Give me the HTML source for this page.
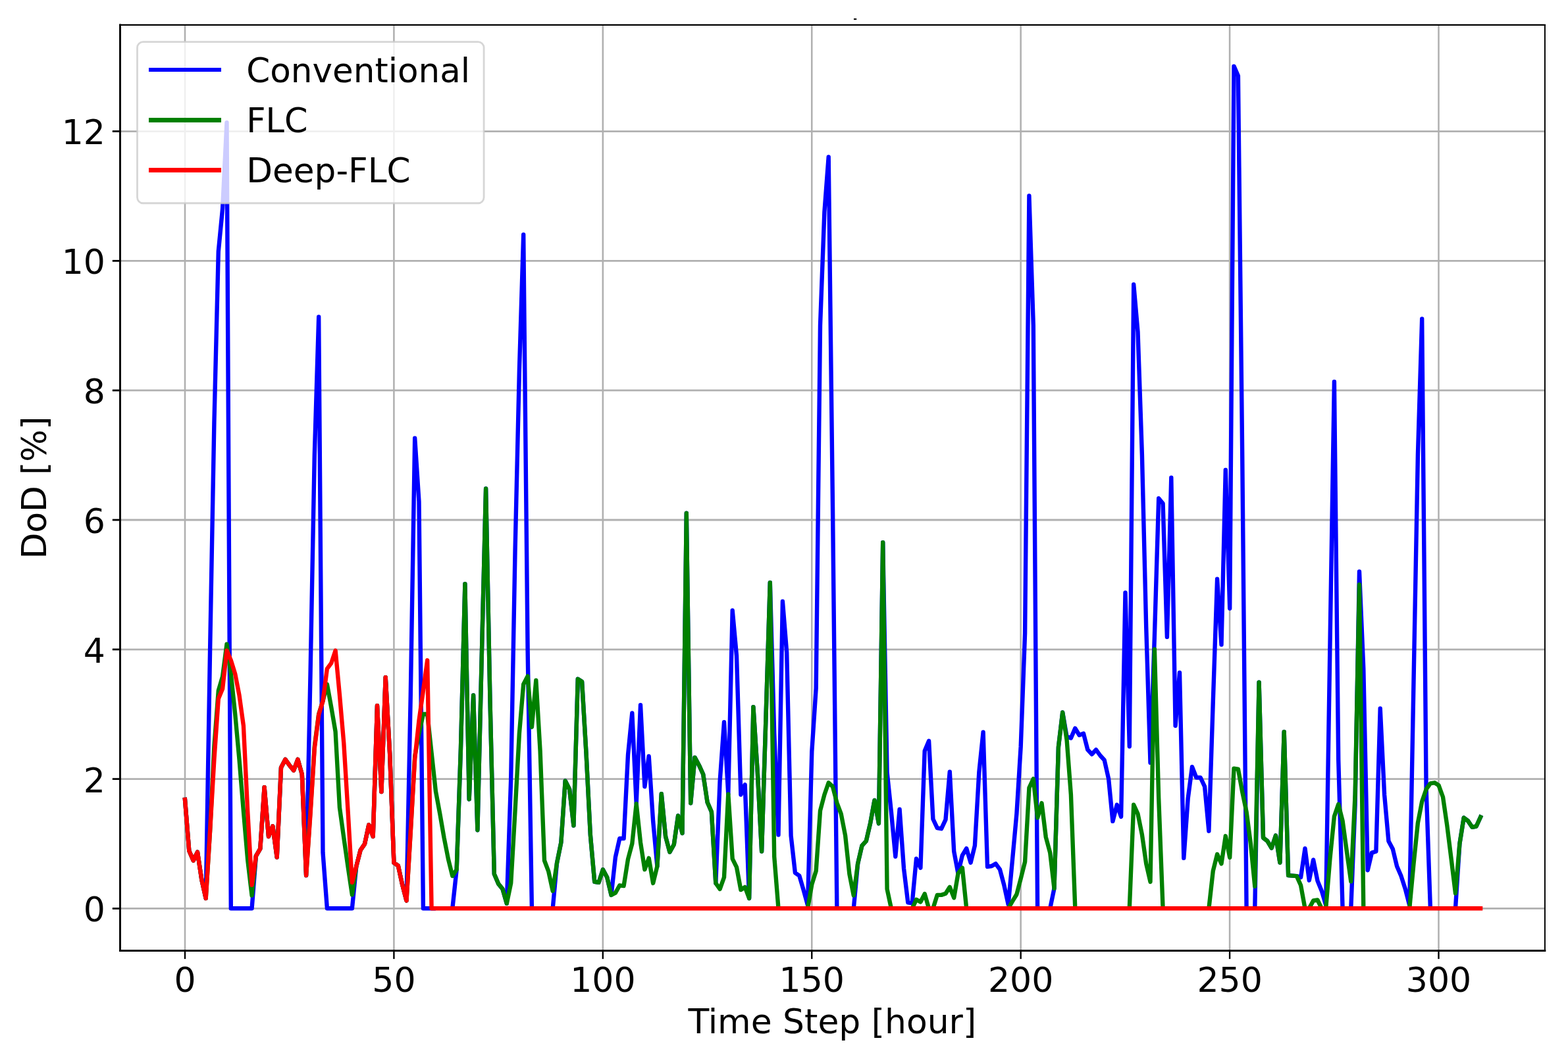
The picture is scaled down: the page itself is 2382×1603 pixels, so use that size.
<!DOCTYPE html>
<html lang="en"><head><meta charset="utf-8"><title>DoD comparison</title>
<style>html,body{margin:0;padding:0;background:#fff}svg{display:block}</style></head>
<body>
<svg xmlns="http://www.w3.org/2000/svg" width="2382" height="1603" viewBox="0 0 2382 1603" font-family="'DejaVu Sans', 'Liberation Sans', sans-serif" font-size="52.08px">
<rect width="2382" height="1603" fill="#fff"/>
<rect x="1297" y="28" width="4.2" height="2.1" fill="#000"/>
<g stroke="#b0b0b0"><line x1="281.00" y1="37.9" x2="281.00" y2="1444.5" stroke-width="2.55"/><line x1="598.41" y1="37.9" x2="598.41" y2="1444.5" stroke-width="2.55"/><line x1="915.83" y1="37.9" x2="915.83" y2="1444.5" stroke-width="2.55"/><line x1="1233.24" y1="37.9" x2="1233.24" y2="1444.5" stroke-width="2.55"/><line x1="1550.66" y1="37.9" x2="1550.66" y2="1444.5" stroke-width="2.55"/><line x1="1868.08" y1="37.9" x2="1868.08" y2="1444.5" stroke-width="2.55"/><line x1="2185.49" y1="37.9" x2="2185.49" y2="1444.5" stroke-width="2.55"/><line x1="182.5" y1="1380.45" x2="2346.9" y2="1380.45" stroke-width="2.8"/><line x1="182.5" y1="1183.63" x2="2346.9" y2="1183.63" stroke-width="2.8"/><line x1="182.5" y1="986.81" x2="2346.9" y2="986.81" stroke-width="2.8"/><line x1="182.5" y1="789.99" x2="2346.9" y2="789.99" stroke-width="2.8"/><line x1="182.5" y1="593.17" x2="2346.9" y2="593.17" stroke-width="2.8"/><line x1="182.5" y1="396.35" x2="2346.9" y2="396.35" stroke-width="2.8"/><line x1="182.5" y1="199.53" x2="2346.9" y2="199.53" stroke-width="2.8"/></g>
<clipPath id="ax"><rect x="182.5" y="37.9" width="2164.4" height="1406.6"/></clipPath>
<g clip-path="url(#ax)">
<g fill="none" stroke="#0000ff" stroke-width="6.40" stroke-linejoin="round" stroke-linecap="butt"><polyline points="280.7,1211.7 281.0,1214.9 287.3,1292.7 293.7,1307.5 300.0,1294.7 306.4,1337.0 312.7,1365.0 319.1,986.5 325.4,642.0 331.8,382.1 338.1,317.1 344.5,186.2 350.8,1380.3 357.2,1380.3 363.5,1380.3 369.9,1380.3 376.2,1380.3 382.6,1380.3 388.9,1300.6 395.3,1289.7 401.6,1196.2 408.0,1271.0 414.3,1255.3 420.7,1302.5 427.0,1166.2 433.4,1153.9 439.7,1162.7 446.1,1170.6 452.4,1153.9 458.8,1176.5 465.1,1330.1 471.5,1025.9 477.8,691.2 484.2,481.5 490.5,1295.6 496.9,1380.3 503.2,1380.3 509.6,1380.3 515.9,1380.3 522.3,1380.3 528.6,1380.3 534.9,1380.3 541.3,1316.3 547.6,1291.7 554.0,1282.4 560.3,1253.3 566.7,1271.0 573.0,1072.2 579.4,1203.1 585.7,1029.2 592.1,1144.0 598.4,1310.8 604.8,1315.3 611.1,1343.9 617.5,1368.5 623.8,1055.4 630.2,665.6 636.5,762.1 642.9,1380.3 649.2,1380.3 655.6,1380.3 661.9,1380.3"/><polyline points="687.3,1380.3 693.7,1321.2 700.0,1136.2 706.4,887.1 712.7,1214.4 719.1,1056.4 725.4,1261.2 731.8,996.4 738.1,742.4 744.5,1065.3 750.8,1328.1 757.2,1342.9 763.5,1350.8 769.8,1372.8 776.2,1183.4 782.5,838.9 788.9,563.2 795.2,356.5 801.6,986.5 807.9,1380.3"/><polyline points="839.7,1380.3 846.0,1311.4 852.4,1279.9 858.7,1186.4 865.1,1199.2 871.4,1254.3 877.8,1031.8 884.1,1035.8 890.5,1144.0 896.8,1268.1 903.2,1339.9 909.5,1340.9 915.9,1321.2 922.2,1333.0 928.6,1359.9 934.9,1302.5 941.3,1274.0 947.6,1274.0 954.0,1147.0 960.3,1083.4 966.7,1220.8 973.0,1071.2 979.4,1195.2 985.7,1149.0 992.1,1247.4 998.4,1316.3 1004.8,1206.1 1011.1,1271.0 1017.4,1294.7 1023.8,1283.2 1030.1,1239.5 1036.5,1266.1 1042.8,779.8 1049.2,1220.3 1055.5,1150.9 1061.9,1162.7 1068.2,1176.5 1074.6,1218.9 1080.9,1233.6 1087.3,1341.9 1093.6,1187.4 1100.0,1097.2 1106.3,1206.6 1112.7,927.5 1119.0,996.4 1125.4,1207.5 1131.7,1192.3 1138.1,1365.0 1144.4,1074.2 1150.8,1173.6 1157.1,1293.7 1163.5,1089.9 1169.8,885.1 1176.2,1114.5 1182.5,1268.6 1188.9,913.7 1195.2,991.5 1201.6,1270.0 1207.9,1326.2 1214.3,1330.6 1220.6,1352.1 1227.0,1375.4 1233.3,1142.1 1239.7,1045.6 1246.0,494.3 1252.4,322.1 1258.7,238.4 1265.0,770.0 1271.4,1380.3"/><polyline points="1296.8,1380.3 1303.1,1312.4 1309.5,1284.8 1315.8,1277.9 1322.2,1250.4 1328.5,1215.9 1334.9,1251.3 1341.2,824.1 1347.6,1173.6 1353.9,1233.6 1360.3,1301.5 1366.6,1229.7 1373.0,1319.3 1379.3,1371.4 1385.7,1372.4 1392.0,1304.8 1398.4,1318.6 1404.7,1141.1 1411.1,1125.8 1417.4,1244.5 1423.8,1258.2 1430.1,1259.2 1436.5,1245.4 1442.8,1172.6 1449.2,1293.7 1455.5,1327.1 1461.9,1299.6 1468.2,1289.2 1474.6,1310.8 1480.9,1284.8 1487.3,1173.6 1493.6,1112.5 1500.0,1316.8 1506.3,1316.0 1512.6,1312.4 1519.0,1321.2 1525.3,1344.9 1531.7,1374.4 1538.0,1306.5 1544.4,1236.6 1550.7,1134.2 1557.1,961.9 1563.4,297.5 1569.8,494.3 1576.1,1380.3"/><polyline points="1595.2,1380.3 1601.5,1349.8 1607.9,1135.2 1614.2,1082.5 1620.6,1119.4 1626.9,1121.4 1633.3,1106.6 1639.6,1117.0 1646.0,1114.5 1652.3,1139.1 1658.7,1146.0 1665.0,1139.1 1671.4,1148.0 1677.7,1154.9 1684.1,1183.4 1690.4,1247.9 1696.8,1222.8 1703.1,1241.0 1709.5,900.4 1715.8,1134.2 1722.2,432.3 1728.5,504.2 1734.9,691.2 1741.2,952.1 1747.5,1158.8 1753.9,966.9 1760.2,757.2 1766.6,765.0 1772.9,967.8 1779.3,725.7 1785.6,1102.7 1792.0,1022.0 1798.3,1303.9 1804.7,1213.0 1811.0,1165.2 1817.4,1181.5 1823.7,1181.5 1830.1,1195.2 1836.4,1262.7 1842.8,1065.3 1849.1,879.7 1855.5,979.6 1861.8,713.9 1868.2,924.5 1874.5,100.6 1880.9,115.3 1887.2,691.2 1893.6,1380.3"/><polyline points="1906.3,1380.3 1912.6,1036.7 1919.0,1273.0 1925.3,1277.9 1931.7,1288.5 1938.0,1269.5 1944.4,1310.8 1950.7,1111.9 1957.1,1330.1 1963.4,1330.6 1969.8,1331.1 1976.1,1333.0 1982.5,1289.2 1988.8,1337.5 1995.1,1306.5 2001.5,1338.4 2007.8,1353.7 2014.2,1375.4 2020.5,976.7 2026.9,580.0 2033.2,1153.9 2039.6,1380.3"/><polyline points="2052.3,1380.3 2058.6,1222.8 2065.0,868.4 2071.3,1016.1 2077.7,1322.2 2084.0,1295.6 2090.4,1293.7 2096.7,1076.5 2103.1,1207.5 2109.4,1277.9 2115.8,1290.1 2122.1,1316.3 2128.5,1331.1 2134.8,1350.8 2141.2,1375.4 2147.5,1035.8 2153.9,691.2 2160.2,484.5 2166.6,1198.2 2172.9,1380.3"/><polyline points="2211.0,1380.3 2217.4,1281.9 2223.7,1242.5 2230.1,1247.4 2236.4,1256.8 2242.7,1255.5 2249.1,1241.5 2250.4,1238.6"/></g>
<g fill="none" stroke="#008000" stroke-width="6.40" stroke-linejoin="round" stroke-linecap="butt"><polyline points="280.7,1211.7 281.0,1214.9 287.3,1292.7 293.7,1307.5 300.0,1294.7 306.4,1337.0 312.7,1365.0 319.1,1262.2 325.4,1134.2 331.8,1049.5 338.1,1027.9 344.5,978.7 350.8,1023.9 357.2,1085.0 363.5,1153.9 369.9,1232.6 376.2,1306.5 382.6,1360.6 388.9,1300.6 395.3,1289.7 401.6,1196.2 408.0,1271.0 414.3,1255.3 420.7,1302.5 427.0,1166.2 433.4,1153.9 439.7,1162.7 446.1,1170.6 452.4,1153.9 458.8,1176.5 465.1,1330.1 471.5,1232.6 477.8,1134.2 484.2,1085.0 490.5,1065.3 496.9,1039.7 503.2,1074.2 509.6,1111.6 515.9,1226.7 522.3,1273.0 528.6,1317.3 534.9,1359.6 541.3,1316.3 547.6,1291.7 554.0,1282.4 560.3,1253.3 566.7,1271.0 573.0,1072.2 579.4,1203.1 585.7,1029.2 592.1,1144.0 598.4,1310.8 604.8,1315.3 611.1,1343.9 617.5,1368.5 623.8,1262.2 630.2,1149.0 636.5,1114.5 642.9,1085.0 649.2,1085.0 655.6,1144.0 661.9,1202.1 668.3,1236.6 674.6,1273.0 681.0,1305.5 687.3,1331.1 693.7,1321.2 700.0,1136.2 706.4,887.1 712.7,1214.4 719.1,1056.4 725.4,1261.2 731.8,996.4 738.1,742.4 744.5,1065.3 750.8,1328.1 757.2,1342.9 763.5,1350.8 769.8,1372.8 776.2,1341.9 782.5,1232.6 788.9,1114.5 795.2,1039.7 801.6,1027.4 807.9,1104.7 814.3,1033.8 820.6,1141.1 827.0,1307.5 833.3,1324.2 839.7,1353.7 846.0,1311.4 852.4,1279.9 858.7,1186.4 865.1,1199.2 871.4,1254.3 877.8,1031.8 884.1,1035.8 890.5,1144.0 896.8,1268.1 903.2,1339.9 909.5,1340.9 915.9,1321.2 922.2,1333.0 928.6,1359.9 934.9,1356.7 941.3,1345.3 947.6,1346.1 954.0,1305.5 960.3,1281.9 966.7,1221.3 973.0,1279.9 979.4,1321.2 985.7,1303.9 992.1,1341.9 998.4,1316.3 1004.8,1206.1 1011.1,1271.0 1017.4,1294.7 1023.8,1283.2 1030.1,1239.5 1036.5,1266.1 1042.8,779.8 1049.2,1220.3 1055.5,1150.9 1061.9,1162.7 1068.2,1176.5 1074.6,1218.9 1080.9,1233.6 1087.3,1341.9 1093.6,1350.8 1100.0,1333.0 1106.3,1206.6 1112.7,1304.8 1119.0,1317.7 1125.4,1352.1 1131.7,1347.8 1138.1,1365.0 1144.4,1074.2 1150.8,1173.6 1157.1,1293.7 1163.5,1089.9 1169.8,885.1 1176.2,1301.5 1182.5,1380.3"/><polyline points="1227.0,1380.3 1233.3,1343.9 1239.7,1323.2 1246.0,1231.7 1252.4,1207.5 1258.7,1189.3 1265.0,1195.2 1271.4,1219.8 1277.7,1236.6 1284.1,1269.5 1290.4,1328.1 1296.8,1360.6 1303.1,1312.4 1309.5,1284.8 1315.8,1277.9 1322.2,1250.4 1328.5,1215.9 1334.9,1251.3 1341.2,824.1 1347.6,1350.8 1353.9,1380.3"/><polyline points="1385.7,1380.3 1392.0,1366.8 1398.4,1370.5 1404.7,1358.2 1411.1,1380.3"/><polyline points="1417.4,1380.3 1423.8,1359.9 1430.1,1359.9 1436.5,1357.7 1442.8,1347.8 1449.2,1364.2 1455.5,1327.1 1461.9,1318.6 1468.2,1380.3"/><polyline points="1531.7,1380.3 1538.0,1369.5 1544.4,1359.0 1550.7,1335.0 1557.1,1309.4 1563.4,1197.2 1569.8,1183.4 1576.1,1242.5 1582.5,1220.3 1588.8,1272.0 1595.2,1295.6 1601.5,1349.8 1607.9,1135.2 1614.2,1082.5 1620.6,1124.4 1626.9,1207.5 1633.3,1380.3"/><polyline points="1715.8,1380.3 1722.2,1222.8 1728.5,1236.6 1734.9,1268.1 1741.2,1312.4 1747.5,1339.9 1753.9,986.5 1760.2,1213.0 1766.6,1380.3"/><polyline points="1836.4,1380.3 1842.8,1323.2 1849.1,1297.9 1855.5,1312.4 1861.8,1270.3 1868.2,1303.0 1874.5,1167.7 1880.9,1168.7 1887.2,1203.1 1893.6,1233.6 1899.9,1281.9 1906.3,1346.8 1912.6,1036.7 1919.0,1273.0 1925.3,1277.9 1931.7,1288.5 1938.0,1269.5 1944.4,1310.8 1950.7,1111.9 1957.1,1330.1 1963.4,1330.6 1969.8,1331.1 1976.1,1345.3 1982.5,1380.3"/><polyline points="1988.8,1380.3 1995.1,1368.5 2001.5,1367.5 2007.8,1380.3"/><polyline points="2014.2,1380.3 2020.5,1303.9 2026.9,1240.5 2033.2,1222.1 2039.6,1247.4 2045.9,1293.7 2052.3,1339.3 2058.6,1207.5 2065.0,888.1 2071.3,1380.3"/><polyline points="2141.2,1380.3 2147.5,1312.4 2153.9,1250.4 2160.2,1217.9 2166.6,1199.2 2172.9,1190.3 2179.3,1189.3 2185.6,1193.3 2192.0,1211.0 2198.3,1254.3 2204.7,1305.5 2211.0,1357.3 2217.4,1281.9 2223.7,1242.5 2230.1,1247.4 2236.4,1256.8 2242.7,1255.5 2249.1,1241.5 2250.4,1238.6"/></g>
<g fill="none" stroke="#ff0000" stroke-width="6.40" stroke-linejoin="round" stroke-linecap="butt"><polyline points="280.7,1211.7 281.0,1214.9 287.3,1292.7 293.7,1307.5 300.0,1294.7 306.4,1337.0 312.7,1365.0 319.1,1262.2 325.4,1153.9 331.8,1061.8 338.1,1046.6 344.5,988.5 350.8,1003.3 357.2,1023.9 363.5,1056.4 369.9,1102.7 376.2,1232.6 382.6,1344.9 388.9,1300.6 395.3,1289.7 401.6,1196.2 408.0,1271.0 414.3,1255.3 420.7,1302.5 427.0,1166.2 433.4,1153.9 439.7,1162.7 446.1,1170.6 452.4,1153.9 458.8,1176.5 465.1,1330.1 471.5,1237.6 477.8,1137.2 484.2,1086.0 490.5,1065.3 496.9,1016.1 503.2,1007.7 509.6,988.5 515.9,1055.4 522.3,1129.3 528.6,1232.6 534.9,1340.9 541.3,1316.3 547.6,1291.7 554.0,1282.4 560.3,1253.3 566.7,1271.0 573.0,1072.2 579.4,1203.1 585.7,1029.2 592.1,1144.0 598.4,1310.8 604.8,1315.3 611.1,1343.9 617.5,1368.5 623.8,1264.1 630.2,1152.9 636.5,1094.8 642.9,1049.5 649.2,1003.3 655.6,1380.3 661.9,1380.3 668.3,1380.3 674.6,1380.3 681.0,1380.3 687.3,1380.3 693.7,1380.3 700.0,1380.3 706.4,1380.3 712.7,1380.3 719.1,1380.3 725.4,1380.3 731.8,1380.3 738.1,1380.3 744.5,1380.3 750.8,1380.3 757.2,1380.3 763.5,1380.3 769.8,1380.3 776.2,1380.3 782.5,1380.3 788.9,1380.3 795.2,1380.3 801.6,1380.3 807.9,1380.3 814.3,1380.3 820.6,1380.3 827.0,1380.3 833.3,1380.3 839.7,1380.3 846.0,1380.3 852.4,1380.3 858.7,1380.3 865.1,1380.3 871.4,1380.3 877.8,1380.3 884.1,1380.3 890.5,1380.3 896.8,1380.3 903.2,1380.3 909.5,1380.3 915.9,1380.3 922.2,1380.3 928.6,1380.3 934.9,1380.3 941.3,1380.3 947.6,1380.3 954.0,1380.3 960.3,1380.3 966.7,1380.3 973.0,1380.3 979.4,1380.3 985.7,1380.3 992.1,1380.3 998.4,1380.3 1004.8,1380.3 1011.1,1380.3 1017.4,1380.3 1023.8,1380.3 1030.1,1380.3 1036.5,1380.3 1042.8,1380.3 1049.2,1380.3 1055.5,1380.3 1061.9,1380.3 1068.2,1380.3 1074.6,1380.3 1080.9,1380.3 1087.3,1380.3 1093.6,1380.3 1100.0,1380.3 1106.3,1380.3 1112.7,1380.3 1119.0,1380.3 1125.4,1380.3 1131.7,1380.3 1138.1,1380.3 1144.4,1380.3 1150.8,1380.3 1157.1,1380.3 1163.5,1380.3 1169.8,1380.3 1176.2,1380.3 1182.5,1380.3 1188.9,1380.3 1195.2,1380.3 1201.6,1380.3 1207.9,1380.3 1214.3,1380.3 1220.6,1380.3 1227.0,1380.3 1233.3,1380.3 1239.7,1380.3 1246.0,1380.3 1252.4,1380.3 1258.7,1380.3 1265.0,1380.3 1271.4,1380.3 1277.7,1380.3 1284.1,1380.3 1290.4,1380.3 1296.8,1380.3 1303.1,1380.3 1309.5,1380.3 1315.8,1380.3 1322.2,1380.3 1328.5,1380.3 1334.9,1380.3 1341.2,1380.3 1347.6,1380.3 1353.9,1380.3 1360.3,1380.3 1366.6,1380.3 1373.0,1380.3 1379.3,1380.3 1385.7,1380.3 1392.0,1380.3 1398.4,1380.3 1404.7,1380.3 1411.1,1380.3 1417.4,1380.3 1423.8,1380.3 1430.1,1380.3 1436.5,1380.3 1442.8,1380.3 1449.2,1380.3 1455.5,1380.3 1461.9,1380.3 1468.2,1380.3 1474.6,1380.3 1480.9,1380.3 1487.3,1380.3 1493.6,1380.3 1500.0,1380.3 1506.3,1380.3 1512.6,1380.3 1519.0,1380.3 1525.3,1380.3 1531.7,1380.3 1538.0,1380.3 1544.4,1380.3 1550.7,1380.3 1557.1,1380.3 1563.4,1380.3 1569.8,1380.3 1576.1,1380.3 1582.5,1380.3 1588.8,1380.3 1595.2,1380.3 1601.5,1380.3 1607.9,1380.3 1614.2,1380.3 1620.6,1380.3 1626.9,1380.3 1633.3,1380.3 1639.6,1380.3 1646.0,1380.3 1652.3,1380.3 1658.7,1380.3 1665.0,1380.3 1671.4,1380.3 1677.7,1380.3 1684.1,1380.3 1690.4,1380.3 1696.8,1380.3 1703.1,1380.3 1709.5,1380.3 1715.8,1380.3 1722.2,1380.3 1728.5,1380.3 1734.9,1380.3 1741.2,1380.3 1747.5,1380.3 1753.9,1380.3 1760.2,1380.3 1766.6,1380.3 1772.9,1380.3 1779.3,1380.3 1785.6,1380.3 1792.0,1380.3 1798.3,1380.3 1804.7,1380.3 1811.0,1380.3 1817.4,1380.3 1823.7,1380.3 1830.1,1380.3 1836.4,1380.3 1842.8,1380.3 1849.1,1380.3 1855.5,1380.3 1861.8,1380.3 1868.2,1380.3 1874.5,1380.3 1880.9,1380.3 1887.2,1380.3 1893.6,1380.3 1899.9,1380.3 1906.3,1380.3 1912.6,1380.3 1919.0,1380.3 1925.3,1380.3 1931.7,1380.3 1938.0,1380.3 1944.4,1380.3 1950.7,1380.3 1957.1,1380.3 1963.4,1380.3 1969.8,1380.3 1976.1,1380.3 1982.5,1380.3 1988.8,1380.3 1995.1,1380.3 2001.5,1380.3 2007.8,1380.3 2014.2,1380.3 2020.5,1380.3 2026.9,1380.3 2033.2,1380.3 2039.6,1380.3 2045.9,1380.3 2052.3,1380.3 2058.6,1380.3 2065.0,1380.3 2071.3,1380.3 2077.7,1380.3 2084.0,1380.3 2090.4,1380.3 2096.7,1380.3 2103.1,1380.3 2109.4,1380.3 2115.8,1380.3 2122.1,1380.3 2128.5,1380.3 2134.8,1380.3 2141.2,1380.3 2147.5,1380.3 2153.9,1380.3 2160.2,1380.3 2166.6,1380.3 2172.9,1380.3 2179.3,1380.3 2185.6,1380.3 2192.0,1380.3 2198.3,1380.3 2204.7,1380.3 2211.0,1380.3 2217.4,1380.3 2223.7,1380.3 2230.1,1380.3 2236.4,1380.3 2242.7,1380.3 2249.1,1380.3 2252.3,1380.3"/></g>
</g>
<g stroke="#000"><line x1="281.00" y1="1444.5" x2="281.00" y2="1457.10" stroke-width="2.4"/><line x1="598.41" y1="1444.5" x2="598.41" y2="1457.10" stroke-width="2.4"/><line x1="915.83" y1="1444.5" x2="915.83" y2="1457.10" stroke-width="2.4"/><line x1="1233.24" y1="1444.5" x2="1233.24" y2="1457.10" stroke-width="2.4"/><line x1="1550.66" y1="1444.5" x2="1550.66" y2="1457.10" stroke-width="2.4"/><line x1="1868.08" y1="1444.5" x2="1868.08" y2="1457.10" stroke-width="2.4"/><line x1="2185.49" y1="1444.5" x2="2185.49" y2="1457.10" stroke-width="2.4"/><line x1="182.5" y1="1380.45" x2="170.80" y2="1380.45" stroke-width="2.8"/><line x1="182.5" y1="1183.63" x2="170.80" y2="1183.63" stroke-width="2.8"/><line x1="182.5" y1="986.81" x2="170.80" y2="986.81" stroke-width="2.8"/><line x1="182.5" y1="789.99" x2="170.80" y2="789.99" stroke-width="2.8"/><line x1="182.5" y1="593.17" x2="170.80" y2="593.17" stroke-width="2.8"/><line x1="182.5" y1="396.35" x2="170.80" y2="396.35" stroke-width="2.8"/><line x1="182.5" y1="199.53" x2="170.80" y2="199.53" stroke-width="2.8"/></g>
<g stroke="#000" stroke-linecap="square"><line x1="182.5" y1="37.9" x2="182.5" y2="1444.5" stroke-width="2.9"/><line x1="182.5" y1="1444.5" x2="2346.9" y2="1444.5" stroke-width="2.9"/><line x1="182.5" y1="37.9" x2="2346.9" y2="37.9" stroke-width="2.3"/><line x1="2346.9" y1="37.9" x2="2346.9" y2="1444.5" stroke-width="2.0"/></g>
<text x="281.00" y="1506.8" text-anchor="middle">0</text>
<text x="598.41" y="1506.8" text-anchor="middle">50</text>
<text x="915.83" y="1506.8" text-anchor="middle">100</text>
<text x="1233.24" y="1506.8" text-anchor="middle">150</text>
<text x="1550.66" y="1506.8" text-anchor="middle">200</text>
<text x="1868.08" y="1506.8" text-anchor="middle">250</text>
<text x="2185.49" y="1506.8" text-anchor="middle">300</text>
<text x="160.0" y="1400.35" text-anchor="end">0</text>
<text x="160.0" y="1203.53" text-anchor="end">2</text>
<text x="160.0" y="1006.71" text-anchor="end">4</text>
<text x="160.0" y="809.89" text-anchor="end">6</text>
<text x="160.0" y="613.07" text-anchor="end">8</text>
<text x="160.0" y="416.25" text-anchor="end">10</text>
<text x="160.0" y="219.43" text-anchor="end">12</text>
<text x="1264.40" y="1570" text-anchor="middle" textLength="437.6" lengthAdjust="spacingAndGlyphs">Time Step [hour]</text>
<text transform="translate(69.5,740.90) rotate(-90)" text-anchor="middle" textLength="216.8" lengthAdjust="spacingAndGlyphs">DoD [%]</text>
<rect x="208.5" y="63.6" width="526.6" height="245.15" rx="8.9" ry="8.9" fill="#fff" fill-opacity="0.8" stroke="#ccc" stroke-opacity="0.8" stroke-width="2.8"/>
<rect x="226" y="103" width="110" height="6" fill="#0000ff"/>
<text x="374.3" y="124.75" textLength="339.9" lengthAdjust="spacingAndGlyphs">Conventional</text>
<rect x="226" y="179" width="110" height="7" fill="#008000"/>
<text x="374.3" y="200.8" textLength="93.3" lengthAdjust="spacingAndGlyphs">FLC</text>
<rect x="226" y="255" width="110" height="7" fill="#ff0000"/>
<text x="374.3" y="277.2" textLength="249.3" lengthAdjust="spacingAndGlyphs">Deep-FLC</text>
</svg>
</body></html>
